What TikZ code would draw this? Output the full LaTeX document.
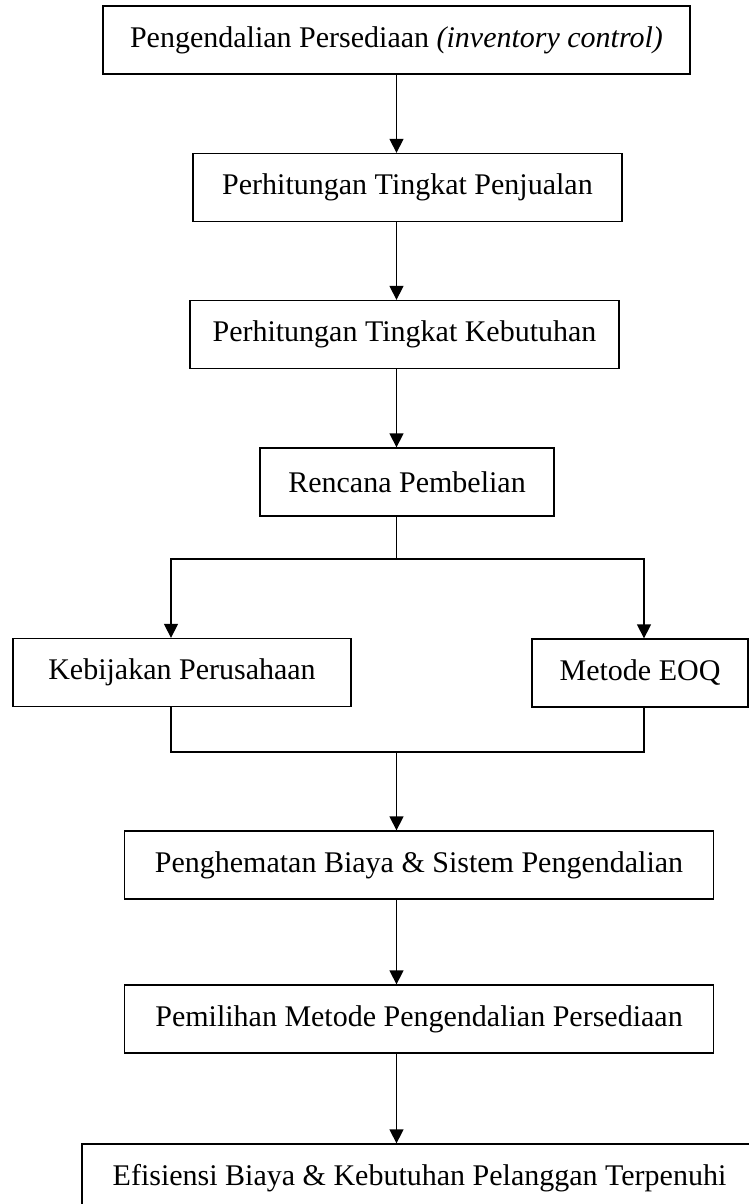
\documentclass[tikz,border=0pt]{standalone}
\usepackage{fontspec}
\setmainfont{Liberation Serif}
\usetikzlibrary{arrows.meta}

\begin{document}
\begin{tikzpicture}[
  x=1pt, y=-1pt,
  box/.style={draw, rectangle, line width=1.3pt, inner sep=0pt, minimum height=68pt, minimum width=#1, font=\fontsize{30}{36}\selectfont},
  arr/.style={-{Triangle[width=14pt,length=14pt]}, line width=1.3pt},
  link/.style={line width=1.3pt}
]
  \useasboundingbox (0,0) rectangle (749,1204);
  \clip (0,0) rectangle (749,1204);

  % ===== ALUR ATAS =====
  \node[box=587pt] (pc) at (396.5,40) {Pengendalian Persediaan \textit{(inventory control)}};
  \node[box=429pt] (ptp) at (407.5,187.5) {Perhitungan Tingkat Penjualan};
  \node[box=429pt] (ptk) at (404.5,334.5) {Perhitungan Tingkat Kebutuhan};
  \node[box=294pt] (rp) at (407,482) {Rencana Pembelian};

  % ===== CABANG =====
  \node[box=338pt] (kp) at (182,672.5) {Kebijakan Perusahaan};
  \node[box=216pt] (eoq) at (640,673) {Metode EOQ};

  % ===== ALUR BAWAH =====
  \node[box=589pt] (pb) at (419,865) {Penghematan Biaya \& Sistem Pengendalian};
  \node[box=589pt] (pm) at (419,1019) {Pemilihan Metode Pengendalian Persediaan};
  \node[box=675pt] (eb) at (419.5,1178) {Efisiensi Biaya \& Kebutuhan Pelanggan Terpenuhi};

  % titik bantu
  \coordinate (spine) at (396.5,0);
  \coordinate (lft) at (171,0);
  \coordinate (rgt) at (644,0);
  \coordinate (split) at (396.5,559);
  \coordinate (merge) at (396.5,752);

  \draw[arr] (pc.south -| spine) -- (ptp.north -| spine);
  \draw[arr] (ptp.south -| spine) -- (ptk.north -| spine);
  \draw[arr] (ptk.south -| spine) -- (rp.north -| spine);

  \draw[link] (rp.south -| spine) -- (split);
  \draw[arr] (split) -| (kp.north -| lft);
  \draw[arr] (split) -| (eoq.north -| rgt);

  \draw[link] (kp.south -| lft) |- (merge);
  \draw[link] (eoq.south -| rgt) |- (merge);
  \draw[arr] (merge) -- (pb.north -| spine);

  \draw[arr] (pb.south -| spine) -- (pm.north -| spine);
  \draw[arr] (pm.south -| spine) -- (eb.north -| spine);
\end{tikzpicture}
\end{document}
